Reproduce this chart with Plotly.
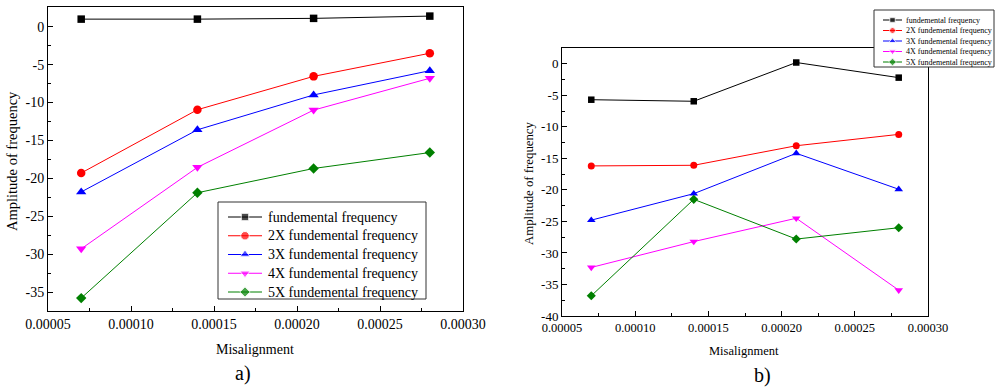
import plotly.graph_objects as go

# ---------------- data ----------------
misalignment = [0.00007, 0.00014, 0.00021, 0.00028]
series_names = ["fundemental frequency", "2X fundemental frequency", "3X fundemental frequency",
                "4X fundemental frequency", "5X fundemental frequency"]
series_colors = ["#000000", "#FF0000", "#0000FF", "#FF00FF", "#008000"]
series_symbols = ["square", "circle", "triangle-up", "triangle-down", "diamond"]
series_msize_a = [7.5, 8.5, 9, 9, 8]
series_msize_b = [6.5, 7, 7.5, 7.5, 7]

a_fund = [1.0, 1.0, 1.1, 1.4]
a_2x = [-19.3, -10.95, -6.55, -3.5]
a_3x = [-21.8, -13.6, -9.0, -5.8]
a_4x = [-29.3, -18.55, -11.0, -6.8]
a_5x = [-35.8, -21.9, -18.7, -16.6]

b_fund = [-5.7, -5.95, 0.2, -2.2]
b_2x = [-16.2, -16.1, -13.0, -11.2]
b_3x = [-24.8, -20.6, -14.2, -19.9]
b_4x = [-32.3, -28.2, -24.5, -35.9]
b_5x = [-36.8, -21.5, -27.8, -26.0]

x_tickvals = [0.00005, 0.00010, 0.00015, 0.00020, 0.00025, 0.00030]
x_ticktext = ["0.00005", "0.00010", "0.00015", "0.00020", "0.00025", "0.00030"]
ya_tickvals = [0, -5, -10, -15, -20, -25, -30, -35]
yb_tickvals = [0, -5, -10, -15, -20, -25, -30, -35, -40]

# ---------------- figure ----------------
W, H = 998, 388
FONT = "Liberation Serif"

def px_x(p):
    return p / W

def px_y(p):
    return 1 - p / H

fig = go.Figure()

a_series = [a_fund, a_2x, a_3x, a_4x, a_5x]
b_series = [b_fund, b_2x, b_3x, b_4x, b_5x]

for name, col, sym, ms, ys in zip(series_names, series_colors, series_symbols, series_msize_a, a_series):
    fig.add_trace(go.Scatter(x=misalignment, y=ys, name=name, mode="lines+markers",
                             line=dict(color=col, width=1),
                             marker=dict(color=col, symbol=sym, size=ms),
                             xaxis="x", yaxis="y", showlegend=False, cliponaxis=False))

for name, col, sym, ms, ys in zip(series_names, series_colors, series_symbols, series_msize_b, b_series):
    fig.add_trace(go.Scatter(x=misalignment, y=ys, name=name, mode="lines+markers",
                             line=dict(color=col, width=1),
                             marker=dict(color=col, symbol=sym, size=ms),
                             xaxis="x2", yaxis="y2", showlegend=False, cliponaxis=False))


def add_legend(box, item_y0, item_dy, sym_x0, sym_x1, text_x, fsize, msizes):
    l, r, t, b = box
    fig.add_trace(go.Scatter(x=[l, r, r, l, l], y=[t, t, b, b, t],
                             mode="lines", fill="toself", fillcolor="white",
                             line=dict(color="#333333", width=1), xaxis="x3", yaxis="y3",
                             showlegend=False, hoverinfo="skip"))
    for i, (name, col, sym, ms) in enumerate(zip(series_names, series_colors, series_symbols, msizes)):
        yc = item_y0 + i * item_dy
        fig.add_trace(go.Scatter(x=[sym_x0, (sym_x0 + sym_x1) / 2, sym_x1], y=[yc, yc, yc],
                                 mode="lines+markers", line=dict(color=col, width=1),
                                 marker=dict(color=col, symbol=sym, size=[0, ms, 0]),
                                 xaxis="x3", yaxis="y3", showlegend=False, hoverinfo="skip",
                                 cliponaxis=False))
        fig.add_annotation(x=text_x, y=yc, xref="x3", yref="y3", text=name, showarrow=False,
                           xanchor="left", yanchor="middle",
                           font=dict(family=FONT, size=fsize, color="black"))


add_legend((218, 426, 202, 299), 217, 18.75, 228, 262, 266, 14, series_msize_a)
add_legend((874, 994, 10, 67), 20, 10.5, 883, 902, 904, 8, [5.5, 6, 6.5, 6.5, 6])

axis_common = dict(showline=True, linecolor="black", linewidth=1, mirror=True,
                   ticks="inside", ticklen=5, tickwidth=1, tickcolor="black",
                   showgrid=False, zeroline=False, automargin=False)

a_l, a_r, a_t, a_b = 48, 463, 7, 311
b_l, b_r, b_t, b_b = 562, 928, 48, 316

hidden_axis = dict(visible=False, fixedrange=True, automargin=False, showticklabels=False,
                   ticks="", showgrid=False, zeroline=False, showline=False)

fig.update_layout(
    width=W, height=H, margin=dict(l=0, r=0, t=0, b=0, pad=0, autoexpand=False),
    paper_bgcolor="white", plot_bgcolor="rgba(0,0,0,0)",
    font=dict(family=FONT, color="black"),
    xaxis=dict(domain=[px_x(a_l), px_x(a_r)], anchor="y", range=[0.00005, 0.0003],
               tickmode="array", tickvals=x_tickvals, ticktext=x_ticktext,
               tickfont=dict(size=14),
               minor=dict(ticks="inside", ticklen=3, tickcolor="black", dtick=0.000025, tick0=0.00005),
               **axis_common),
    yaxis=dict(domain=[px_y(a_b), px_y(a_t)], anchor="x", range=[-37.5, 2.6],
               tickmode="array", tickvals=ya_tickvals, ticktext=[str(v) for v in ya_tickvals],
               tickfont=dict(size=14),
               minor=dict(ticks="inside", ticklen=3, tickcolor="black", dtick=2.5, tick0=0),
               **axis_common),
    xaxis2=dict(domain=[px_x(b_l), px_x(b_r)], anchor="y2", range=[0.00005, 0.0003],
                tickmode="array", tickvals=x_tickvals, ticktext=x_ticktext,
                tickfont=dict(size=12.5),
                minor=dict(ticks="inside", ticklen=3, tickcolor="black", dtick=0.000025, tick0=0.00005),
                **axis_common),
    yaxis2=dict(domain=[px_y(b_b), px_y(b_t)], anchor="x2", range=[-40, 2.5],
                tickmode="array", tickvals=yb_tickvals, ticktext=[str(v) for v in yb_tickvals],
                tickfont=dict(size=13),
                minor=dict(ticks="inside", ticklen=3, tickcolor="black", dtick=2.5, tick0=0),
                **axis_common),
    xaxis3=dict(domain=[0, 1], anchor="y3", range=[0, W], **hidden_axis),
    yaxis3=dict(domain=[0, 1], anchor="x3", range=[H, 0], **hidden_axis),
    showlegend=False,
)

annots = [
    dict(x=px_x(255), y=px_y(349), text="Misalignment", size=14, angle=0),
    dict(x=px_x(744), y=px_y(350.5), text="Misalignment", size=12.5, angle=0),
    dict(x=px_x(12), y=px_y(161), text="Amplitude of frequency", size=14.5, angle=-90),
    dict(x=px_x(529), y=px_y(183), text="Amplitude of frequency", size=12.8, angle=-90),
    dict(x=px_x(243), y=px_y(373), text="a)", size=20, angle=0),
    dict(x=px_x(762), y=px_y(375), text="b)", size=20, angle=0),
]
for a in annots:
    fig.add_annotation(x=a["x"], y=a["y"], xref="paper", yref="paper", text=a["text"],
                       showarrow=False, textangle=a["angle"], xanchor="center", yanchor="middle",
                       font=dict(family=FONT, size=a["size"], color="black"))

fig.write_html("out.html")
